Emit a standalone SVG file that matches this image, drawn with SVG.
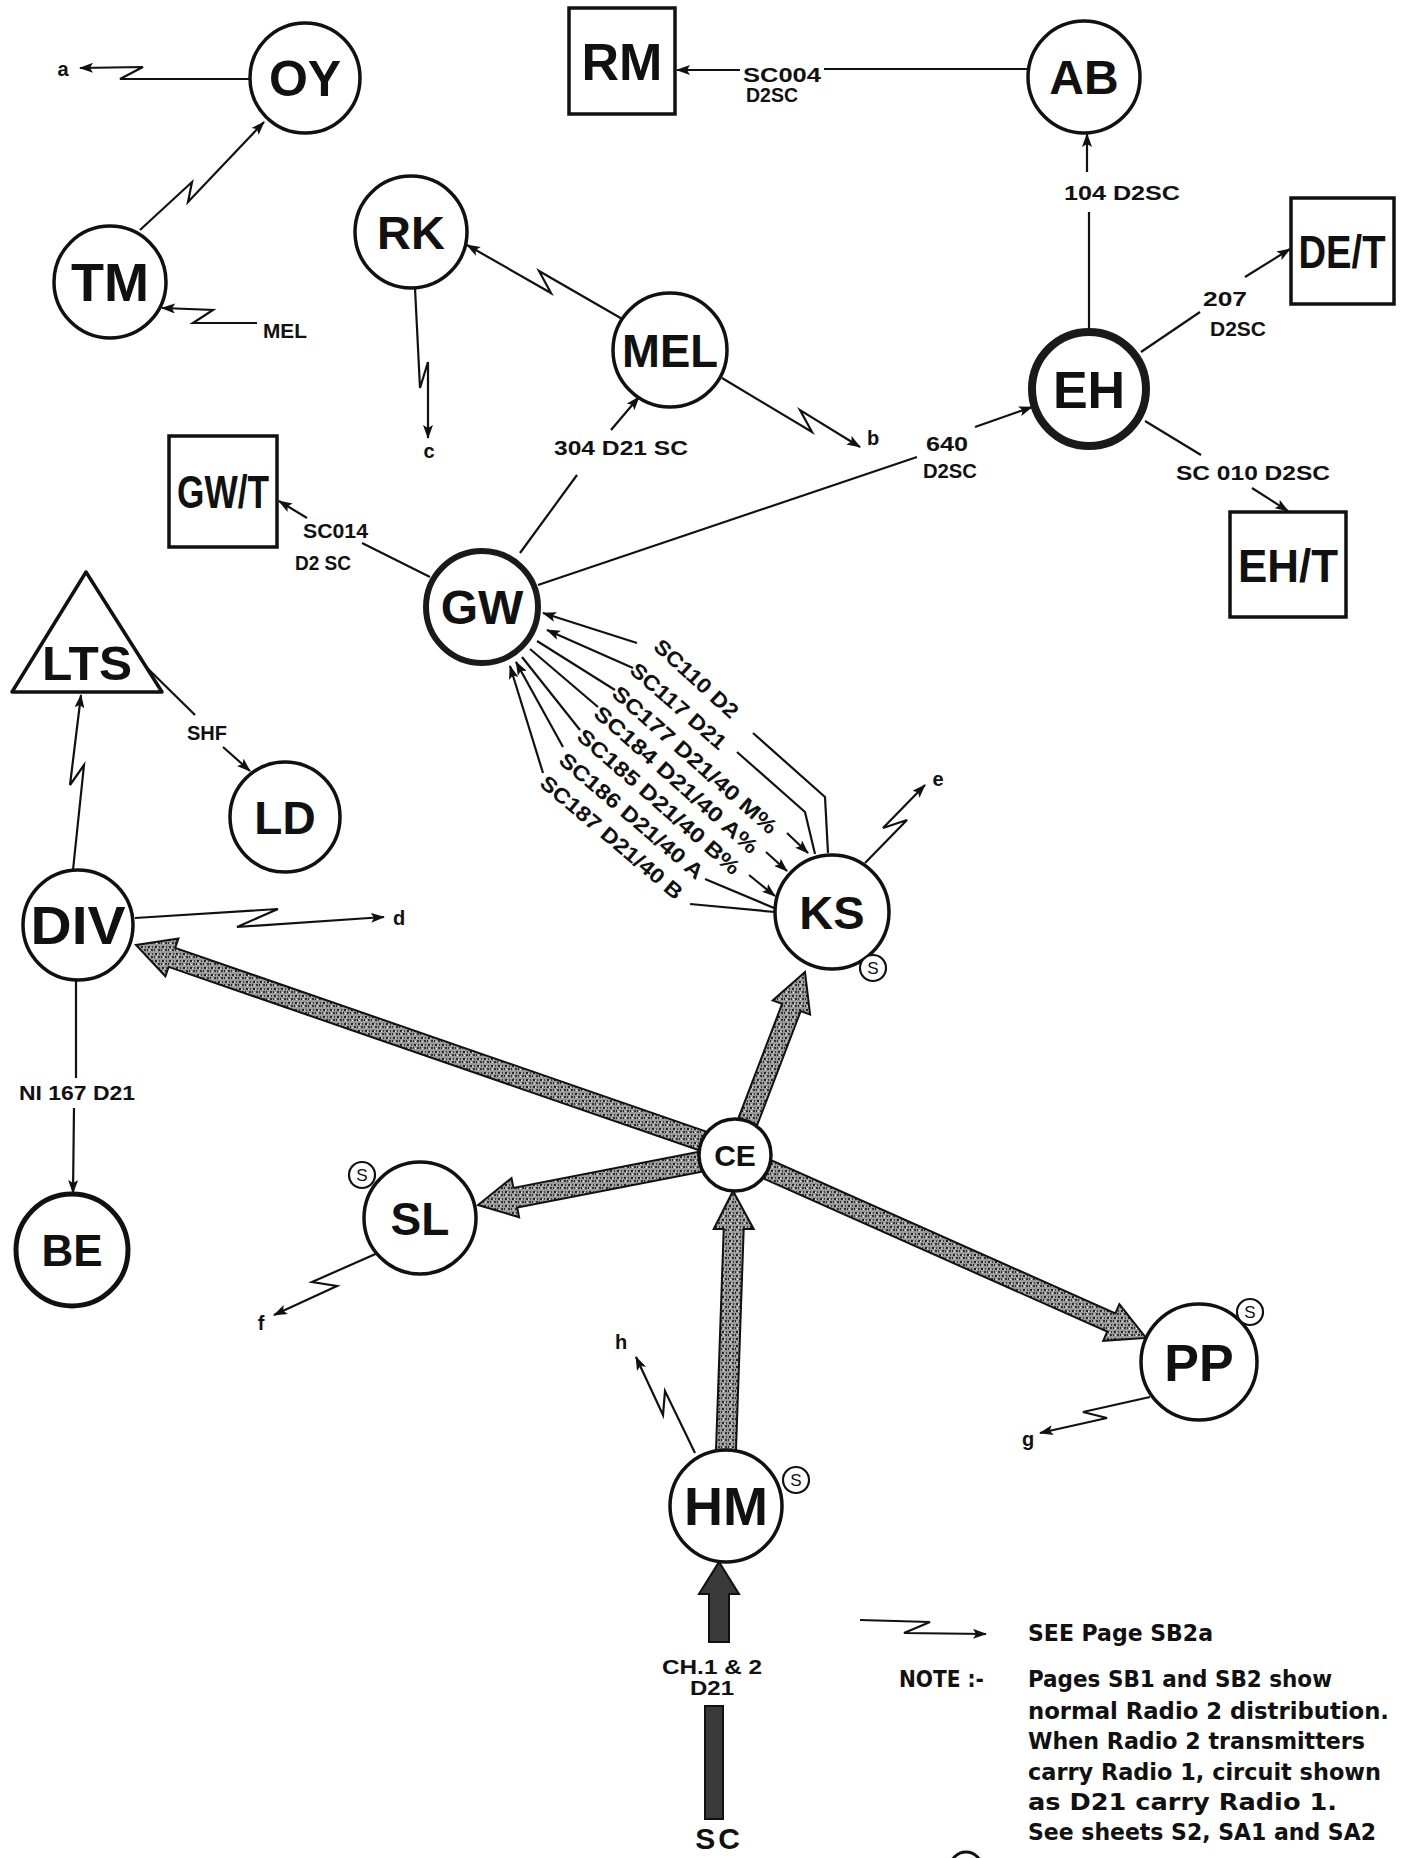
<svg xmlns="http://www.w3.org/2000/svg" width="1409" height="1858" viewBox="0 0 1409 1858">
<defs>
<style>
.n{fill:#fff;stroke:#111;stroke-width:3.5}
.bx{fill:#fff;stroke:#111;stroke-width:3.5}
.nt{font-family:"Liberation Sans",Arial,sans-serif;font-weight:bold;text-anchor:middle;fill:#111}
.c{fill:none;stroke:#111;stroke-width:2.2;stroke-linejoin:miter}
.lb{font-family:"Liberation Sans",Arial,sans-serif;font-weight:bold;font-size:20px;fill:#111}
.rl{font-family:"Liberation Sans",Arial,sans-serif;font-weight:bold;font-size:21px;fill:#111}
.th{fill:url(#sp);stroke:#111;stroke-width:2}
.sc{fill:#fff;stroke:#111;stroke-width:2.2}
.st{font-family:"Liberation Sans",Arial,sans-serif;font-size:17px;text-anchor:middle;fill:#111}
.note{font-family:"DejaVu Sans Condensed","DejaVu Sans",sans-serif;font-weight:bold;font-size:23px;fill:#111}
</style>
<pattern id="sp" width="7" height="7" patternUnits="userSpaceOnUse">
<rect width="7" height="7" fill="#9a9a9a"/>
<rect x="1" y="1" width="2" height="2" fill="#222"/>
<rect x="4" y="4" width="2" height="2" fill="#333"/>
<rect x="5" y="1" width="1" height="2" fill="#444"/>
<rect x="0" y="4" width="1" height="2" fill="#2a2a2a"/>
<rect x="2" y="5" width="1" height="1" fill="#eee"/>
<rect x="3" y="2" width="1" height="1" fill="#e8e8e8"/>
</pattern>
<marker id="ah" viewBox="0 0 14 10" refX="13" refY="5" markerWidth="14" markerHeight="10" markerUnits="userSpaceOnUse" orient="auto">
<path d="M0,0 L14,5 L0,10 L3,5 z" fill="#111"/>
</marker>
</defs>
<rect width="1409" height="1858" fill="#fff"/>

<g id="connectors">
<!-- OY to a -->
<path class="c" d="M250,79 L120,79 L143,67 L80,68" marker-end="url(#ah)"/>
<text class="lb" x="63" y="76" text-anchor="middle">a</text>
<!-- TM to OY -->
<path class="c" d="M140,230 L192,182 L188,202 L264,122" marker-end="url(#ah)"/>
<!-- MEL to TM -->
<path class="c" d="M257,323 L193,323 L213,310 L162,308" marker-end="url(#ah)"/>
<text class="lb" x="263" y="338" textLength="44" lengthAdjust="spacingAndGlyphs">MEL</text>
<!-- AB to RM -->
<path class="c" d="M1029,69 L824,69"/>
<path class="c" d="M740,70 L677,70" marker-end="url(#ah)"/>
<text class="lb" x="743" y="82" font-size="22" textLength="78" lengthAdjust="spacingAndGlyphs">SC004</text>
<text class="lb" x="746" y="102" textLength="52" lengthAdjust="spacingAndGlyphs">D2SC</text>
<!-- EH to AB -->
<path class="c" d="M1089,331 L1089,212"/>
<path class="c" d="M1087,172 L1087,134" marker-end="url(#ah)"/>
<text class="lb" x="1064" y="200" textLength="116" lengthAdjust="spacingAndGlyphs">104  D2SC</text>
<!-- EH to DE/T -->
<path class="c" d="M1141,352 L1200,312"/>
<path class="c" d="M1245,277 L1290,249" marker-end="url(#ah)"/>
<text class="lb" x="1203" y="306" font-size="21" textLength="44" lengthAdjust="spacingAndGlyphs">207</text>
<text class="lb" x="1210" y="336" textLength="56" lengthAdjust="spacingAndGlyphs">D2SC</text>
<!-- EH to EH/T -->
<path class="c" d="M1145,421 L1201,455"/>
<path class="c" d="M1252,488 L1288,511" marker-end="url(#ah)"/>
<text class="lb" x="1176" y="480" textLength="154" lengthAdjust="spacingAndGlyphs">SC 010  D2SC</text>
<!-- GW to EH -->
<path class="c" d="M538,585 L917,457"/>
<path class="c" d="M975,427 L1032,407" marker-end="url(#ah)"/>
<text class="lb" x="926" y="451" font-size="21" textLength="42" lengthAdjust="spacingAndGlyphs">640</text>
<text class="lb" x="923" y="478" textLength="54" lengthAdjust="spacingAndGlyphs">D2SC</text>
<!-- GW to MEL -->
<path class="c" d="M520,553 L577,475"/>
<path class="c" d="M611,430 L639,397" marker-end="url(#ah)"/>
<text class="lb" x="554" y="455" textLength="134" lengthAdjust="spacingAndGlyphs">304  D21 SC</text>
<!-- MEL to RK -->
<path class="c" d="M624,320 L539,271 L551,293 L467,245" marker-end="url(#ah)"/>
<!-- RK to c -->
<path class="c" d="M415,288 L420,388 L428,362 L428,438" marker-end="url(#ah)"/>
<text class="lb" x="429" y="458" text-anchor="middle">c</text>
<!-- MEL to b -->
<path class="c" d="M722,378 L812,432 L800,410 L860,447" marker-end="url(#ah)"/>
<text class="lb" x="873" y="445" text-anchor="middle">b</text>
<!-- GW to GW/T -->
<path class="c" d="M430,577 L362,543"/>
<path class="c" d="M307,518 L279,501" marker-end="url(#ah)"/>
<text class="lb" x="303" y="538" font-size="21" textLength="65" lengthAdjust="spacingAndGlyphs">SC014</text>
<text class="lb" x="295" y="570" textLength="56" lengthAdjust="spacingAndGlyphs">D2 SC</text>
<!-- LTS to LD -->
<path class="c" d="M134,655 L195,715"/>
<path class="c" d="M223,747 L250,771" marker-end="url(#ah)"/>
<text class="lb" x="187" y="740" font-size="17" textLength="40" lengthAdjust="spacingAndGlyphs">SHF</text>
<!-- DIV to LTS -->
<path class="c" d="M73,870 L84,765 L70,785 L81,695" marker-end="url(#ah)"/>
<!-- DIV to d -->
<path class="c" d="M135,918 L278,909 L237,927 L384,917" marker-end="url(#ah)"/>
<text class="lb" x="399" y="925" text-anchor="middle">d</text>
<!-- DIV to BE -->
<path class="c" d="M76,981 L76,1078"/>
<path class="c" d="M74,1108 L73,1193" marker-end="url(#ah)"/>
<text class="lb" x="77" y="1100" font-size="18" text-anchor="middle" textLength="116" lengthAdjust="spacingAndGlyphs">NI 167 D21</text>
<!-- KS to e -->
<path class="c" d="M865,863 L907,820 L883,828 L925,785" marker-end="url(#ah)"/>
<text class="lb" x="938" y="786" text-anchor="middle">e</text>
<!-- SL to f -->
<path class="c" d="M380,1252 L312,1282 L337,1286 L274,1315" marker-end="url(#ah)"/>
<text class="lb" x="261" y="1330" text-anchor="middle">f</text>
<!-- PP to g -->
<path class="c" d="M1150,1397 L1083,1412 L1107,1418 L1040,1433" marker-end="url(#ah)"/>
<text class="lb" x="1028" y="1446" text-anchor="middle">g</text>
<!-- HM to h -->
<path class="c" d="M695,1453 L665,1391 L663,1415 L636,1357" marker-end="url(#ah)"/>
<text class="lb" x="621" y="1349" text-anchor="middle">h</text>

<!-- GW - KS bundle -->
<path class="c" d="M637,643 L543,613" marker-end="url(#ah)"/>
<path class="c" d="M633,668 L547,630" marker-end="url(#ah)"/>
<path class="c" d="M615,690 L537,641"/>
<path class="c" d="M598,707 L530,649"/>
<path class="c" d="M580,730 L522,657"/>
<path class="c" d="M563,747 L516,662" marker-end="url(#ah)"/>
<path class="c" d="M543,773 L510,666" marker-end="url(#ah)"/>
<text class="rl" transform="translate(657,643) rotate(42.5)" y="7" textLength="106" lengthAdjust="spacingAndGlyphs">SC110 D2</text>
<text class="rl" transform="translate(633,667) rotate(41)" y="7" textLength="120" lengthAdjust="spacingAndGlyphs">SC117  D21</text>
<text class="rl" transform="translate(615,690) rotate(41.3)" y="7" textLength="212" lengthAdjust="spacingAndGlyphs">SC177  D21/40 M%</text>
<text class="rl" transform="translate(597,710) rotate(41.5)" y="7" textLength="211" lengthAdjust="spacingAndGlyphs">SC184 D21/40 A%</text>
<text class="rl" transform="translate(580,733) rotate(41.2)" y="7" textLength="209" lengthAdjust="spacingAndGlyphs">SC185 D21/40 B%</text>
<text class="rl" transform="translate(562,757) rotate(40.4)" y="7" textLength="182" lengthAdjust="spacingAndGlyphs">SC186 D21/40 A</text>
<text class="rl" transform="translate(543,780) rotate(40.1)" y="7" textLength="179" lengthAdjust="spacingAndGlyphs">SC187 D21/40 B</text>
<path class="c" d="M753,733 L825,797 L828,853"/>
<path class="c" d="M737,752 L805,812 L815,854"/>
<path class="c" d="M787,833 L808,853" marker-end="url(#ah)"/>
<path class="c" d="M766,852 L787,871" marker-end="url(#ah)"/>
<path class="c" d="M749,875 L775,896" marker-end="url(#ah)"/>
<path class="c" d="M705,879 L774,908"/>
<path class="c" d="M690,904 L775,912"/>

<!-- thick distribution arrows -->
<polygon class="th" points="706.3,1131.6 175.2,947.9 178.4,938.5 136,945 165.4,976.3 168.6,966.9 699.7,1150.5"/>
<polygon class="th" points="757.2,1125.0 800.7,1011.1 810.1,1014.6 805,972 772.7,1000.4 782.1,1003.9 738.6,1117.8"/>
<polygon class="th" points="697.8,1152.1 513.4,1187.9 511.5,1178.1 478,1205 519.1,1217.3 517.2,1207.5 701.6,1171.7"/>
<polygon class="th" points="763.8,1178.7 1107.2,1331.6 1103.2,1340.8 1146,1338 1119.4,1304.2 1115.4,1313.4 772,1160.5"/>
<polygon class="th" points="716,1450 723.7,1229 713.7,1229 733,1191 753.7,1229 743.7,1229 736,1450"/>
<polygon class="th" points="709,1642 709,1594 699,1594 719,1562 739,1594 729,1594 729,1642" style="fill:#3a3a3a"/>
<rect class="th" x="705" y="1706" width="18" height="113" style="fill:#3a3a3a"/>
<text class="lb" x="712" y="1674" font-size="18" text-anchor="middle" textLength="100" lengthAdjust="spacingAndGlyphs">CH.1 &amp; 2</text>
<text class="lb" x="712" y="1695" font-size="18" text-anchor="middle" textLength="44" lengthAdjust="spacingAndGlyphs">D21</text>
</g>

<g id="node-OY"><circle class="n" cx="305" cy="78" r="55"/><text class="nt" x="305" y="96" font-size="50">OY</text></g>
<g id="node-TM"><circle class="n" cx="110" cy="282" r="56"/><text class="nt" x="110" y="301" font-size="54">TM</text></g>
<g id="node-RM"><rect class="bx" x="569" y="8" width="106" height="106"/><text class="nt" x="622" y="80" font-size="52">RM</text></g>
<g id="node-AB"><circle class="n" cx="1084" cy="77" r="56"/><text class="nt" x="1084" y="94" font-size="48">AB</text></g>
<g id="node-EH"><circle class="n" cx="1089" cy="389" r="57" style="stroke-width:8;stroke:#1a1a1a"/><text class="nt" x="1089" y="408" font-size="52">EH</text></g>
<g id="node-DET"><rect class="bx" x="1291" y="198" width="103" height="106"/><text class="nt" x="1342" y="268" font-size="46" textLength="87" lengthAdjust="spacingAndGlyphs">DE/T</text></g>
<g id="node-EHT"><rect class="bx" x="1230" y="512" width="116" height="105"/><text class="nt" x="1288" y="582" font-size="46" textLength="100" lengthAdjust="spacingAndGlyphs">EH/T</text></g>
<g id="node-RK"><circle class="n" cx="411" cy="232" r="56"/><text class="nt" x="411" y="249" font-size="47">RK</text></g>
<g id="node-MEL"><circle class="n" cx="670" cy="350" r="57"/><text class="nt" x="670" y="367" font-size="46" textLength="96" lengthAdjust="spacingAndGlyphs">MEL</text></g>
<g id="node-GWT"><rect class="bx" x="169" y="436" width="108" height="111"/><text class="nt" x="223" y="508" font-size="46" textLength="92" lengthAdjust="spacingAndGlyphs">GW/T</text></g>
<g id="node-GW"><circle class="n" cx="482" cy="607" r="56" style="stroke-width:6;stroke:#1a1a1a"/><text class="nt" x="482" y="624" font-size="48">GW</text></g>
<g id="node-LTS"><polygon points="86,572 162,692 12,692" fill="#fff" stroke="#111" stroke-width="3.5" stroke-linejoin="round"/><text class="nt" x="87" y="680" font-size="48" textLength="90" lengthAdjust="spacingAndGlyphs">LTS</text></g>
<g id="node-LD"><circle class="n" cx="285" cy="817" r="55"/><text class="nt" x="285" y="834" font-size="46">LD</text></g>
<g id="node-DIV"><circle class="n" cx="78" cy="925" r="55"/><text class="nt" x="78" y="944" font-size="54" textLength="95" lengthAdjust="spacingAndGlyphs">DIV</text></g>
<g id="node-KS"><circle class="n" cx="832" cy="912" r="57"/><text class="nt" x="832" y="929" font-size="47">KS</text><circle class="sc" cx="873" cy="968" r="13"/><text class="st" x="873" y="974">S</text></g>
<g id="node-BE"><circle class="n" cx="72" cy="1250" r="56" style="stroke-width:5"/><text class="nt" x="72" y="1266" font-size="44">BE</text></g>
<g id="node-CE"><circle class="n" cx="735" cy="1155" r="36"/><text class="nt" x="735" y="1166" font-size="30">CE</text></g>
<g id="node-SL"><circle class="n" cx="420" cy="1218" r="56"/><text class="nt" x="420" y="1235" font-size="46">SL</text><circle class="sc" cx="362" cy="1175" r="13"/><text class="st" x="362" y="1181">S</text></g>
<g id="node-PP"><circle class="n" cx="1199" cy="1362" r="58"/><text class="nt" x="1199" y="1381" font-size="52">PP</text><circle class="sc" cx="1250" cy="1312" r="13"/><text class="st" x="1250" y="1318">S</text></g>
<g id="node-HM"><circle class="n" cx="726" cy="1506" r="56"/><text class="nt" x="726" y="1525" font-size="54">HM</text><circle class="sc" cx="796" cy="1480" r="13"/><text class="st" x="796" y="1486">S</text></g>
<g id="node-SC"><text class="nt" x="719" y="1849" font-size="30" letter-spacing="3">SC</text></g>

<g id="legend">
<path class="c" d="M860,1620 L930,1622 L904,1633 L986,1634" marker-end="url(#ah)"/>
<text class="note" x="1028" y="1641" textLength="185" lengthAdjust="spacingAndGlyphs">SEE  Page  SB2a</text>
<text class="note" x="899" y="1687" textLength="85" lengthAdjust="spacingAndGlyphs">NOTE :-</text>
<text class="note" x="1028" y="1687" textLength="304" lengthAdjust="spacingAndGlyphs">Pages  SB1 and SB2  show</text>
<text class="note" x="1028" y="1719" textLength="361" lengthAdjust="spacingAndGlyphs">normal  Radio 2 distribution.</text>
<text class="note" x="1028" y="1749" textLength="337" lengthAdjust="spacingAndGlyphs">When  Radio 2  transmitters</text>
<text class="note" x="1028" y="1780" textLength="353" lengthAdjust="spacingAndGlyphs">carry Radio 1, circuit  shown</text>
<text class="note" x="1028" y="1810" textLength="309" lengthAdjust="spacingAndGlyphs">as  D21  carry  Radio 1.</text>
<text class="note" x="1028" y="1840" textLength="348" lengthAdjust="spacingAndGlyphs">See  sheets  S2, SA1 and SA2</text>
<circle cx="966" cy="1868" r="16" fill="none" stroke="#111" stroke-width="3"/>
</g>
</svg>
